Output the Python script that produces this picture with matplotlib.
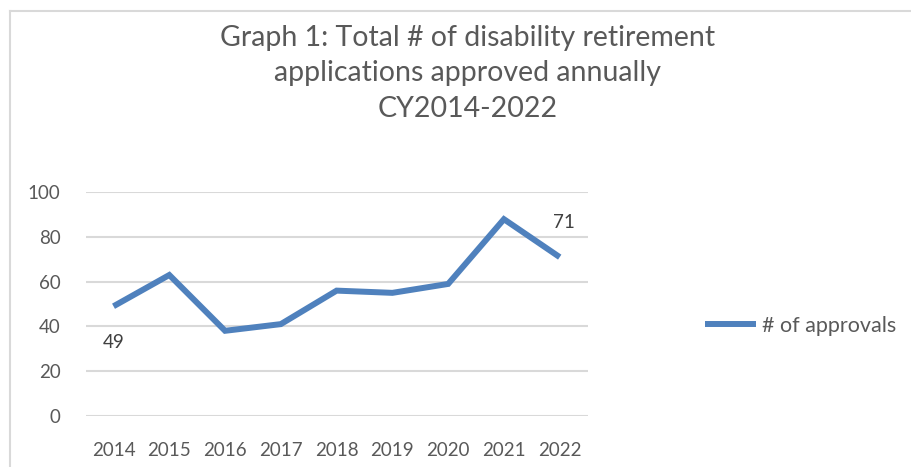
import matplotlib
matplotlib.use("Agg")
import matplotlib.pyplot as plt
from matplotlib.lines import Line2D

years = ["2014", "2015", "2016", "2017", "2018", "2019", "2020", "2021", "2022"]
approvals = [49, 63, 38, 41, 56, 55, 59, 88, 71]
labelled = {0: "below", 8: "above"}  # only first and last points carry a value label

title = "Graph 1: Total # of disability retirement\napplications approved annually\nCY2014-2022"
series_name = "# of approvals"

blue = "#4F81BD"
grey_text = "#595959"
grid_grey = "#D9D9D9"

plt.rcParams["font.family"] = ["Lato", "DejaVu Sans"]

fig = plt.figure(figsize=(9.11, 4.67), dpi=100)
ax = fig.add_axes([0.094, 0.110, 0.551, 0.478])

x = list(range(len(years)))
line, = ax.plot(x, approvals, color=blue, lw=4.3, solid_joinstyle="miter",
                solid_capstyle="butt", label=series_name)

for i, pos in labelled.items():
    dy = -26 if pos == "below" else 25
    ax.annotate(str(approvals[i]), (x[i], approvals[i]), xytext=(3 if pos == "above" else 0, dy),
                textcoords="offset points", ha="center", va="center",
                fontsize=13.5, color="#404040")

ax.set_xlim(-0.5, len(years) - 0.5)
ax.set_ylim(0, 100)
ax.set_yticks(range(0, 101, 20))
ax.set_xticks(x)
ax.set_xticklabels(years)
ax.grid(axis="y", color=grid_grey, lw=1.5)
ax.set_axisbelow(True)
for s in ax.spines.values():
    s.set_visible(False)
ax.tick_params(length=0, labelsize=13.5, labelcolor=grey_text)
ax.tick_params(axis="y", pad=18)
ax.tick_params(axis="x", pad=19)

fig.text(0.513, 0.843, title, ha="center", va="center", fontsize=20.5,
         color=grey_text, linespacing=1.45)

handle = Line2D([], [], color=blue, lw=4.3, solid_capstyle="butt")
fig.legend([handle], [series_name], loc="center left", bbox_to_anchor=(0.774, 0.302),
           frameon=False, fontsize=15.5, labelcolor=grey_text, handlelength=2.37,
           handletextpad=0.28, borderpad=0, borderaxespad=0)

# outer chart frame (only top and left edges fall inside the image)
fig.add_artist(Line2D([10 / 911, 10 / 911], [0, 1 - 11 / 467], transform=fig.transFigure,
                      color=grid_grey, lw=1.5))
fig.add_artist(Line2D([10 / 911, 1], [1 - 11 / 467, 1 - 11 / 467], transform=fig.transFigure,
                      color=grid_grey, lw=1.5))

fig.savefig("out.png", dpi=100, facecolor="white")
